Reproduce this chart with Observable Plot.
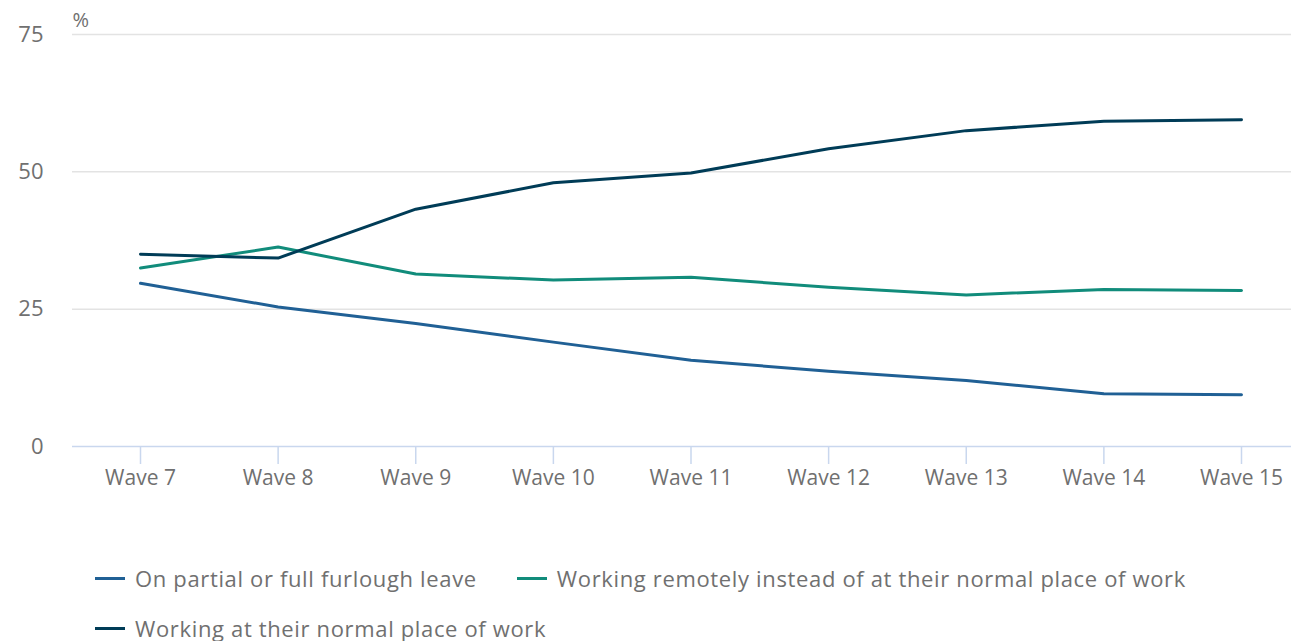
<!DOCTYPE html>
<html>
<head>
<meta charset="utf-8">
<script src="https://cdn.jsdelivr.net/npm/d3@7"></script>
<script src="https://cdn.jsdelivr.net/npm/@observablehq/plot@0.6"></script>
<style>
  body { margin: 0; background: #fff; font-family: "Open Sans", sans-serif; }
  #chart { position: relative; width: 1291px; }
  .legend { margin-left: 95px; margin-top: 53px; font-size: 22px; letter-spacing: 0.65px; color: #707070; }
  .legend .item { display: inline-flex; align-items: center; margin-right: 40px; height: 50px; vertical-align: top; }
  .legend .sw { width: 30px; height: 3px; margin-right: 10px; display: inline-block; }
</style>
</head>
<body>
<div id="chart"></div>
<script>
const waves = ["Wave 7","Wave 8","Wave 9","Wave 10","Wave 11","Wave 12","Wave 13","Wave 14","Wave 15"];
const seriesNames = [
  "On partial or full furlough leave",
  "Working remotely instead of at their normal place of work",
  "Working at their normal place of work"
];
const furlough = [29.7, 25.4, 22.4, 19.0, 15.7, 13.7, 12.0, 9.6, 9.4];
const remote   = [32.5, 36.3, 31.4, 30.3, 30.8, 29.0, 27.6, 28.6, 28.4];
const normal   = [35.0, 34.3, 43.2, 48.0, 49.8, 54.2, 57.5, 59.2, 59.5];
const colors = ["#206095", "#118c7b", "#003c57"];
const yTicks = [0, 25, 50, 75];

const allSeries = [furlough, remote, normal];
const data = [];
allSeries.forEach((vals, si) => vals.forEach((v, i) => data.push({wave: waves[i], value: v, series: seriesNames[si]})));

const plot = Plot.plot({
  width: 1291,
  height: 500,
  marginLeft: 72,
  marginRight: 0,
  marginTop: 34,
  marginBottom: 54,
  style: {fontFamily: "Open Sans, sans-serif", fontSize: "21px", color: "#707070", background: "#fff"},
  x: {type: "point", domain: waves, padding: 0, round: false, insetLeft: 68, insetRight: 50, label: null},
  y: {domain: [0, 75], label: null},
  color: {domain: seriesNames, range: colors},
  marks: [
    Plot.ruleY(yTicks.filter(d => d > 0), {stroke: "#e3e3e3", strokeWidth: 1.5}),
    Plot.ruleY([0], {stroke: "#c9d7ee", strokeWidth: 1.5}),
    Plot.axisY(yTicks, {tickSize: 0, tickPadding: 29, fontSize: 22, fill: "#707070", label: null}),
    Plot.axisX({tickSize: 18, stroke: "#c9d7ee", strokeWidth: 1.5, tickPadding: 6, fontSize: 21, fill: "#707070", label: null, style: {letterSpacing: "0.3px"}}),
    Plot.lineY(data, {x: "wave", y: "value", stroke: "series", z: "series", strokeWidth: 3}),
    Plot.text(["%"], {frameAnchor: "top-left", dx: 0, dy: -22, fill: "#707070", fontSize: 20, textAnchor: "start"})
  ]
});
const chart = document.getElementById("chart");
chart.appendChild(plot);

const legend = document.createElement("div");
legend.className = "legend";
seriesNames.forEach((name, i) => {
  const item = document.createElement("span");
  item.className = "item";
  const sw = document.createElement("span");
  sw.className = "sw";
  sw.style.background = colors[i];
  item.appendChild(sw);
  item.appendChild(document.createTextNode(name));
  legend.appendChild(item);
  if (i === 1) legend.appendChild(document.createElement("br"));
});
chart.appendChild(legend);
</script>
</body>
</html>
